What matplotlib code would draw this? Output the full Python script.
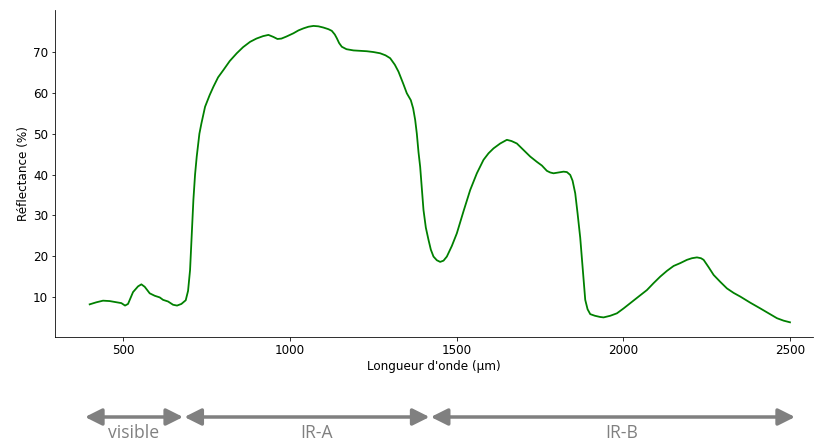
import matplotlib.pyplot as plt
from matplotlib.transforms import blended_transform_factory

wavelength = [400, 420, 440, 460, 480, 495, 506, 515, 530, 545, 555, 565, 580, 595,
              610, 620, 635, 650, 662, 675, 688, 695, 701, 706, 711, 716, 721, 729,
              735, 746, 760, 771, 785, 801, 820, 841, 860, 881, 900, 920, 936, 951,
              963, 975, 990, 1011, 1026, 1041, 1056, 1071, 1086, 1101, 1116, 1126,
              1135, 1141, 1148, 1156, 1170, 1191, 1211, 1231, 1251, 1271, 1287, 1301,
              1315, 1326, 1340, 1351, 1363, 1370, 1376, 1381, 1386, 1391, 1396, 1401,
              1408, 1416, 1423, 1431, 1441, 1451, 1461, 1471, 1486, 1501, 1521, 1541,
              1561, 1581, 1596, 1611, 1631, 1651, 1665, 1681, 1701, 1721, 1741, 1756,
              1771, 1781, 1791, 1806, 1821, 1831, 1841, 1848, 1856, 1863, 1871, 1877,
              1881, 1886, 1893, 1901, 1915, 1931, 1941, 1961, 1981, 2001, 2021, 2046,
              2071, 2091, 2111, 2131, 2151, 2171, 2191, 2206, 2221, 2233, 2241, 2256,
              2271, 2291, 2311, 2331, 2351, 2381, 2411, 2436, 2461, 2481, 2500]
reflectance = [8.2, 8.7, 9.1, 9.0, 8.7, 8.5, 7.9, 8.3, 11.2, 12.6, 13.1, 12.5, 10.9, 10.3,
               9.9, 9.3, 8.9, 8.1, 7.9, 8.3, 9.2, 11.5, 16.6, 25.0, 33.8, 40.0, 44.4, 50.0,
               52.5, 56.6, 59.5, 61.5, 63.8, 65.6, 67.8, 69.7, 71.2, 72.5, 73.3, 73.9, 74.2, 73.7,
               73.2, 73.3, 73.8, 74.6, 75.3, 75.8, 76.2, 76.4, 76.3, 76.0, 75.6, 75.2,
               74.3, 73.4, 72.2, 71.3, 70.7, 70.4, 70.3, 70.2, 70.0, 69.7, 69.2, 68.5,
               66.9, 65.2, 62.3, 59.9, 58.2, 56.2, 53.4, 50.0, 45.5, 41.9, 36.5, 31.3,
               27.0, 24.0, 21.6, 19.9, 19.0, 18.6, 18.9, 19.9, 22.5, 25.6, 31.0, 36.2,
               40.3, 43.6, 45.2, 46.4, 47.6, 48.5, 48.2, 47.6, 46.0, 44.4, 43.1, 42.2,
               40.9, 40.5, 40.3, 40.5, 40.7, 40.6, 39.9, 38.5, 35.4, 30.5, 24.5, 18.5,
               14.5, 9.3, 7.0, 5.8, 5.4, 5.1, 5.0, 5.4, 6.0, 7.2, 8.5, 10.1,
               11.7, 13.4, 15.0, 16.4, 17.6, 18.3, 19.1, 19.5, 19.7, 19.5, 19.1, 17.3,
               15.4, 13.7, 12.1, 11.0, 10.1, 8.6, 7.2, 6.0, 4.8, 4.2, 3.8]

bands = ['visible', 'IR-A', 'IR-B']
band_start = [386, 684, 1423]
band_end = [680, 1419, 2515]
label_x = [533, 1080, 1996]

plt.rcParams['font.size'] = 12
fig = plt.figure(figsize=(814 / 72, 443 / 72), dpi=72)
ax = fig.add_axes([55 / 814, 106 / 443, 758 / 814, 327 / 443])
ax.plot(wavelength, reflectance, color='green', lw=1.8)
ax.set_xlim(296, 2569)
ax.set_ylim(0.2, 80.3)
ax.set_xticks([500, 1000, 1500, 2000, 2500])
ax.set_yticks([10, 20, 30, 40, 50, 60, 70])
ax.spines['top'].set_visible(False)
ax.spines['right'].set_visible(False)
ax.set_xlabel("Longueur d'onde (µm)", labelpad=3)
ax.set_ylabel('Réflectance (%)', labelpad=3)

gray = '#808080'
trans = blended_transform_factory(ax.transData, fig.transFigure)
for name, a, b, lx in zip(bands, band_start, band_end, label_x):
    ax.annotate('', xy=(b, 26 / 443), xytext=(a, 26 / 443),
                xycoords=trans, textcoords=trans, annotation_clip=False,
                arrowprops=dict(arrowstyle='<|-|>,head_length=1.0,head_width=0.5',
                                color=gray, lw=3.5, shrinkA=0, shrinkB=0,
                                mutation_scale=14))
    ax.text(lx, 10 / 443, name, transform=trans, ha='center', va='center',
            fontsize=17.5, color=gray, family=['Open Sans', 'DejaVu Sans'])

fig.savefig('out.png', dpi=72)
